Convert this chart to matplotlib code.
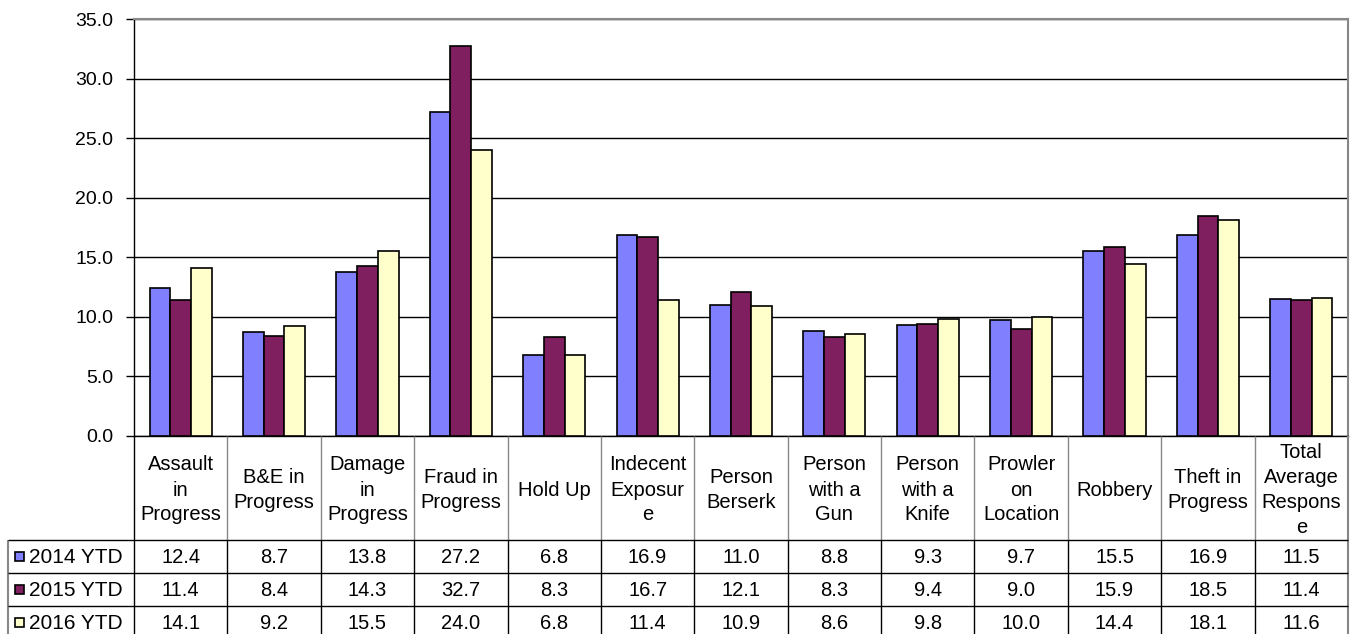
import numpy as np
import matplotlib.pyplot as plt
from matplotlib.patches import Rectangle

plt.rcParams['font.family'] = ['Liberation Sans', 'DejaVu Sans']

categories = ["Assault\nin\nProgress", "B&E in\nProgress", "Damage\nin\nProgress",
              "Fraud in\nProgress", "Hold Up", "Indecent\nExposur\ne", "Person\nBerserk",
              "Person\nwith a\nGun", "Person\nwith a\nKnife", "Prowler\non\nLocation",
              "Robbery", "Theft in\nProgress", "Total\nAverage\nRespons\ne"]
series = ["2014 YTD", "2015 YTD", "2016 YTD"]
v2014 = [12.4, 8.7, 13.8, 27.2, 6.8, 16.9, 11.0, 8.8, 9.3, 9.7, 15.5, 16.9, 11.5]
v2015 = [11.4, 8.4, 14.3, 32.7, 8.3, 16.7, 12.1, 8.3, 9.4, 9.0, 15.9, 18.5, 11.4]
v2016 = [14.1, 9.2, 15.5, 24.0, 6.8, 11.4, 10.9, 8.6, 9.8, 10.0, 14.4, 18.1, 11.6]
colors = ["#8080FF", "#7F1F5F", "#FFFFCC"]

W, H = 1356, 634
L, R, T, B = 134, 1348, 19, 436      # plot area in pixels
TL = 8                               # table left edge
HDR = 540                            # header bottom
ROWH = 33
FS = 14.5

fig = plt.figure(figsize=(W / 100, H / 100), dpi=100)
ax = fig.add_axes([L / W, (H - B) / H, (R - L) / W, (B - T) / H])

n = len(categories)
x = np.arange(n)
bw = 0.222
for k, vals in enumerate([v2014, v2015, v2016]):
    ax.bar(x + (k - 1) * bw, vals, bw, color=colors[k], edgecolor="black",
           linewidth=1.2, zorder=3)

ax.set_xlim(-0.5, n - 0.5)
ax.set_ylim(0, 35)
ax.set_yticks(np.arange(0, 36, 5))
ax.set_yticklabels([f"{t:.1f}" for t in np.arange(0, 36, 5)], fontsize=14)
ax.tick_params(axis="y", length=6, width=1, pad=9)
ax.set_xticks([])
ax.grid(axis="y", color="black", linewidth=1, zorder=0)
ax.spines["top"].set_color("#888888")
ax.spines["right"].set_color("#888888")
ax.spines["top"].set_linewidth(1.5)
ax.spines["right"].set_linewidth(1.5)
ax.spines["left"].set_linewidth(1)
ax.spines["bottom"].set_linewidth(1)

# data table, drawn on an overlay axes: x in category units, y in pixels
unit = (R - L) / n
tb = fig.add_axes([0, 0, 1, 1])
tb.set_xlim(-0.5 - L / unit, n - 0.5 + (W - R) / unit)
tb.set_ylim(H, 0)
tb.axis("off")


def px(p):
    return -0.5 + (p - L) / unit


edges = np.arange(n + 1) - 0.5
rows_top = [HDR + i * ROWH for i in range(len(series) + 1)]

# header column dividers
for e in edges[1:-1]:
    tb.vlines(e, B, HDR, color="#888888", linewidth=1)
tb.vlines(edges[0], B, rows_top[-1], color="black", linewidth=1)
tb.vlines(edges[-1], B, rows_top[-1], color="#888888", linewidth=1.5)
# data row dividers
for e in edges[1:-1]:
    tb.vlines(e, HDR, rows_top[-1], color="black", linewidth=1)
tb.vlines(px(TL), HDR, rows_top[-1], color="#888888", linewidth=1.5)
# horizontal lines
for y in rows_top:
    tb.hlines(y, px(TL), edges[-1], color="black", linewidth=1)

for i, c in enumerate(categories):
    tb.text(i, (B + HDR) / 2 + 2, c, ha="center", va="center", fontsize=FS,
            linespacing=1.4)

for r, (name, vals) in enumerate(zip(series, [v2014, v2015, v2016])):
    yc = rows_top[r] + ROWH / 2
    tb.add_patch(Rectangle((px(15), yc - 4.5), px(24) - px(15), 9,
                           facecolor=colors[r], edgecolor="black", linewidth=1.2))
    tb.text(px(29), yc + 1, name, ha="left", va="center", fontsize=15)
    for i, v in enumerate(vals):
        tb.text(i, yc + 1, f"{v:.1f}", ha="center", va="center", fontsize=FS)

fig.savefig("out.png", dpi=100)
